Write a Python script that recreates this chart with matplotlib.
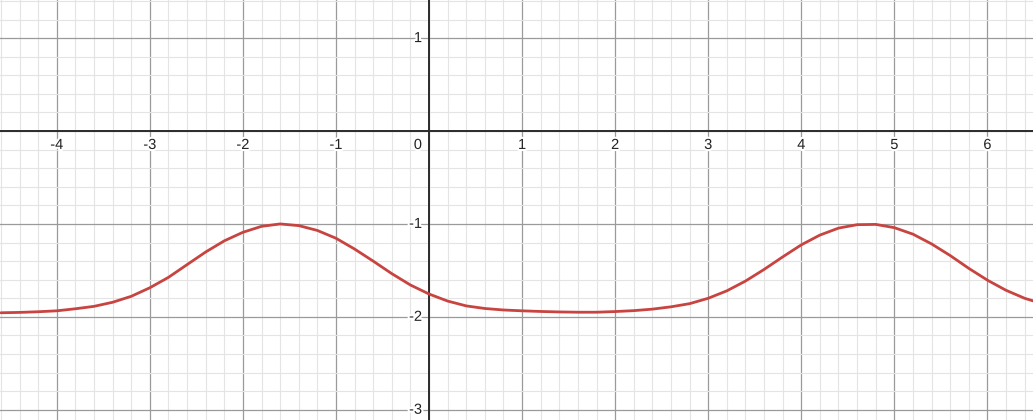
import numpy as np
import matplotlib
matplotlib.use("Agg")
import matplotlib.pyplot as plt
import matplotlib.patheffects as pe
from matplotlib.ticker import MultipleLocator

# curve, every 0.2 along x
xs = [-4.6, -4.4, -4.2, -4.0, -3.8, -3.6, -3.4, -3.2, -3.0, -2.8, -2.6, -2.4, -2.2, -2.0,
      -1.8, -1.6, -1.4, -1.2, -1.0, -0.8, -0.6, -0.4, -0.2, 0.0, 0.2, 0.4, 0.6, 0.8,
      1.0, 1.2, 1.4, 1.6, 1.8, 2.0, 2.2, 2.4, 2.6, 2.8, 3.0, 3.2, 3.4, 3.6, 3.8, 4.0,
      4.2, 4.4, 4.6, 4.8, 5.0, 5.2, 5.4, 5.6, 5.8, 6.0, 6.2, 6.4, 6.6]
ys = [-1.956, -1.952, -1.945, -1.935, -1.913, -1.887, -1.843, -1.779, -1.687, -1.575,
      -1.438, -1.302, -1.182, -1.090, -1.026, -1.000, -1.018, -1.070, -1.154, -1.270,
      -1.400, -1.535, -1.657, -1.754, -1.830, -1.882, -1.910, -1.926, -1.935, -1.942,
      -1.947, -1.950, -1.950, -1.943, -1.933, -1.917, -1.892, -1.858, -1.800, -1.720,
      -1.615, -1.490, -1.355, -1.225, -1.120, -1.045, -1.008, -1.005, -1.040, -1.110,
      -1.215, -1.340, -1.478, -1.605, -1.714, -1.800, -1.862]

xticks = [-4, -3, -2, -1, 1, 2, 3, 4, 5, 6]
yticks = [1, -1, -2, -3]

fig = plt.figure(figsize=(10.33, 4.2), dpi=100)
ax = fig.add_axes([0, 0, 1, 1])
ax.set_xlim(-4.61, 6.49)
ax.set_ylim(-3.11, 1.41)

ax.xaxis.set_major_locator(MultipleLocator(1))
ax.yaxis.set_major_locator(MultipleLocator(1))
ax.xaxis.set_minor_locator(MultipleLocator(0.2))
ax.yaxis.set_minor_locator(MultipleLocator(0.2))
ax.grid(which='minor', color='#e4e4e4', linewidth=0.8)
ax.grid(which='major', color='#9a9a9a', linewidth=0.9)
ax.set_axisbelow(True)
ax.tick_params(which='both', length=0, labelbottom=False, labelleft=False)
for s in ax.spines.values():
    s.set_visible(False)

ax.axhline(0, color='#2b2b2b', linewidth=1.4, zorder=2)
ax.axvline(0, color='#2b2b2b', linewidth=1.4, zorder=2)

ax.plot(xs, ys, color='#c74440', linewidth=2.0, zorder=3,
        solid_capstyle='round', solid_joinstyle='round')

halo = [pe.withStroke(linewidth=3, foreground='white')]
font = dict(family=['Liberation Sans', 'DejaVu Sans'], fontsize=10.5, color='#222222')
for t in xticks:
    ax.annotate(str(t), (t, 0), xytext=(0, -5), textcoords='offset points',
                ha='center', va='top', path_effects=halo, zorder=4, **font)
for t in yticks:
    ax.annotate(str(t), (0, t), xytext=(-5, 0), textcoords='offset points',
                ha='right', va='center', path_effects=halo, zorder=4, **font)
ax.annotate('0', (0, 0), xytext=(-5, -5), textcoords='offset points',
            ha='right', va='top', path_effects=halo, zorder=4, **font)

fig.savefig('out.png', dpi=100)
